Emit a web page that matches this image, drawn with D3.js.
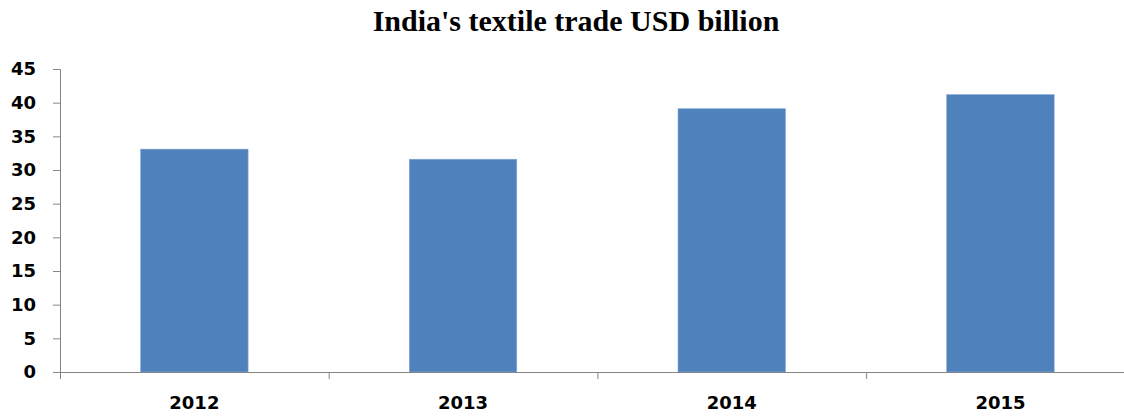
<!DOCTYPE html>
<html>
  <head>
    <meta charset="utf-8">
    <style>
      body { margin: 0; background: #fff; }
      .domain { stroke: #868686; }
      .tick line { stroke: #868686; }
    </style>
  </head>
  <body>
    <svg id="chart" width="1124" height="417"></svg>
  </body>
  <script src="https://d3js.org/d3.v7.min.js"></script>
  <script type="text/javascript">
    var years = ["2012", "2013", "2014", "2015"];
    var trade = [33.1, 31.6, 39.1, 41.2];
    var yTicks = [0, 5, 10, 15, 20, 25, 30, 35, 40, 45];

    var svg = d3.select("#chart");
    var plotLeft = 60, plotBottom = 372, plotTop = 69;
    var step = 268.7;

    var x = d3.scaleBand()
      .domain(years)
      .range([plotLeft, plotLeft + step * years.length])
      .paddingInner(0.6)
      .paddingOuter(0.3);

    var y = d3.scaleLinear()
      .domain([0, 45])
      .range([plotBottom, plotTop]);

    // boundaries between categories, for the tick marks
    var edges = d3.scaleLinear()
      .domain([0, years.length])
      .range([plotLeft, plotLeft + step * years.length]);

    svg.append("text")
      .attr("x", 576)
      .attr("y", 31)
      .attr("text-anchor", "middle")
      .style("font-family", "'Liberation Serif', 'Times New Roman', serif")
      .style("font-weight", "bold")
      .style("font-size", "30px")
      .text("India's textile trade USD billion");

    // bars
    svg.append("g")
      .selectAll("rect")
      .data(trade)
      .enter().append("rect")
      .attr("x", function(d, i) { return x(years[i]); })
      .attr("y", function(d) { return y(d); })
      .attr("width", x.bandwidth())
      .attr("height", function(d) { return plotBottom - y(d); })
      .attr("fill", "#4F81BD")
      .attr("stroke", "#86a8d4")
      .attr("stroke-width", 0.6);

    // y axis
    var yAxis = svg.append("g")
      .attr("transform", "translate(" + plotLeft + ",0)")
      .call(d3.axisLeft(y).tickValues(yTicks).tickSize(7).tickPadding(17).tickSizeOuter(7));
    yAxis.selectAll("text")
      .style("font-family", "'DejaVu Sans', sans-serif")
      .style("font-weight", "bold")
      .style("font-size", "18px")
      .attr("fill", "#000");

    // x axis: ticks on category boundaries
    svg.append("g")
      .attr("transform", "translate(0," + plotBottom + ")")
      .call(d3.axisBottom(edges).tickValues([0, 1, 2, 3]).tickFormat("").tickSize(7).tickSizeOuter(0));

    var xLabels = svg.append("g")
      .attr("transform", "translate(0," + plotBottom + ")")
      .call(d3.axisBottom(x).tickSize(0).tickPadding(24));
    xLabels.select(".domain").remove();
    xLabels.selectAll("text")
      .style("font-family", "'DejaVu Sans', sans-serif")
      .style("font-weight", "bold")
      .style("font-size", "18px")
      .attr("fill", "#000");
  </script>
</html>
